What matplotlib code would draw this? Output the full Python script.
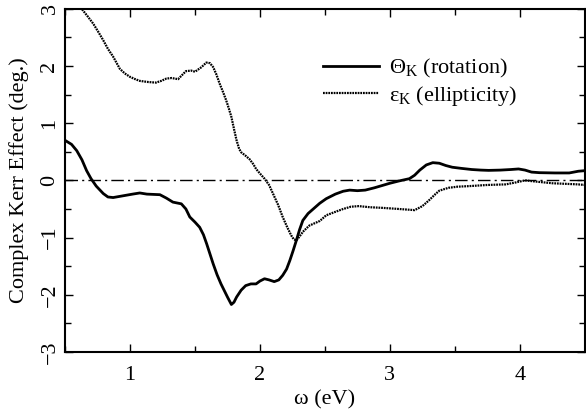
import numpy as np
import matplotlib
matplotlib.use('Agg')
import matplotlib.pyplot as plt
from matplotlib.ticker import MultipleLocator

# Kerr rotation (solid)
theta_x = [0.50, 0.55, 0.59, 0.63, 0.666, 0.70, 0.74, 0.794, 0.83, 0.87, 0.92, 0.97,
           1.02, 1.075, 1.13, 1.18, 1.23, 1.28, 1.33, 1.395, 1.43, 1.46, 1.50, 1.536,
           1.565, 1.59, 1.64, 1.67, 1.70, 1.75, 1.78, 1.80, 1.82, 1.855, 1.89, 1.93,
           1.97, 2.00, 2.035, 2.07, 2.11, 2.145, 2.175, 2.205, 2.23, 2.255, 2.28, 2.305,
           2.33, 2.37, 2.41, 2.46, 2.51, 2.58, 2.64, 2.69, 2.75, 2.81, 2.88, 2.94,
           3.00, 3.07, 3.11, 3.15, 3.19, 3.23, 3.28, 3.33, 3.38, 3.43, 3.48, 3.55, 3.63,
           3.70, 3.76, 3.85, 3.93, 3.99, 4.04, 4.09, 4.15, 4.27, 4.38, 4.45, 4.50]
theta_y = [0.70, 0.63, 0.52, 0.36, 0.17, 0.03, -0.10, -0.23, -0.29, -0.30, -0.28, -0.26,
           -0.24, -0.22, -0.24, -0.245, -0.25, -0.31, -0.38, -0.41, -0.50, -0.64, -0.73, -0.82,
           -0.95, -1.11, -1.46, -1.65, -1.81, -2.04, -2.17, -2.13, -2.04, -1.92, -1.84, -1.81,
           -1.81, -1.76, -1.72, -1.74, -1.77, -1.74, -1.66, -1.55, -1.40, -1.23, -1.05, -0.86,
           -0.70, -0.58, -0.50, -0.40, -0.32, -0.24, -0.19, -0.17, -0.18, -0.17, -0.13, -0.09,
           -0.05, -0.01, 0.01, 0.03, 0.09, 0.18, 0.27, 0.31, 0.30, 0.26, 0.23, 0.21, 0.19,
           0.18, 0.175, 0.18, 0.19, 0.20, 0.18, 0.145, 0.135, 0.13, 0.13, 0.16, 0.17]

# Kerr ellipticity (dotted)
eps_x = [0.50, 0.55, 0.628, 0.67, 0.717, 0.755, 0.794, 0.83, 0.871, 0.90, 0.922, 0.96,
         1.0, 1.04, 1.075, 1.14, 1.2, 1.24, 1.28, 1.32, 1.37, 1.40, 1.43, 1.47,
         1.50, 1.55, 1.587, 1.615, 1.64, 1.665, 1.69, 1.715, 1.74, 1.76, 1.78, 1.80,
         1.82, 1.84, 1.856, 1.89, 1.92, 1.95, 1.97, 2.00, 2.035, 2.07, 2.10, 2.14,
         2.175, 2.21, 2.24, 2.26, 2.28, 2.305, 2.33, 2.38, 2.46, 2.51, 2.58, 2.64,
         2.70, 2.76, 2.85, 2.94, 3.07, 3.19, 3.25, 3.30, 3.35, 3.38, 3.45, 3.52,
         3.61, 3.75, 3.89, 3.96, 4.04, 4.12, 4.25, 4.35, 4.45, 4.50]
eps_y = [3.35, 3.22, 3.0, 2.88, 2.74, 2.60, 2.45, 2.30, 2.16, 2.04, 1.95, 1.87,
         1.81, 1.77, 1.74, 1.72, 1.71, 1.74, 1.78, 1.79, 1.77, 1.84, 1.91, 1.92,
         1.90, 1.98, 2.06, 2.05, 1.98, 1.85, 1.69, 1.55, 1.40, 1.26, 1.11, 0.90,
         0.70, 0.55, 0.49, 0.43, 0.37, 0.28, 0.20, 0.12, 0.03, -0.08, -0.23, -0.43,
         -0.64, -0.82, -0.96, -1.03, -1.05, -0.98, -0.90, -0.79, -0.71, -0.61, -0.55, -0.50,
         -0.46, -0.45, -0.47, -0.48, -0.50, -0.52, -0.45, -0.35, -0.24, -0.18, -0.13, -0.11,
         -0.10, -0.08, -0.07, -0.04, 0.0, -0.02, -0.05, -0.06, -0.07, -0.08]

plt.rcParams['font.family'] = ['Liberation Serif', 'DejaVu Serif']
plt.rcParams['mathtext.fontset'] = 'custom'
plt.rcParams['mathtext.rm'] = 'Liberation Serif'
plt.rcParams['font.size'] = 16

fig = plt.figure(figsize=(5.86, 4.2), dpi=100)
ax = fig.add_axes([0.111, 0.162, 0.887, 0.817])

ax.axhline(0, color='black', lw=1.0, linestyle=(0, (9, 3, 1.5, 3)))
ax.plot(theta_x, theta_y, color='black', lw=2.0, solid_joinstyle='round',
        label='Θ$_{\\rm K}$ (rotation)')
ax.plot(eps_x, eps_y, color='black', lw=1.6, linestyle=(0, (0.8, 0.4)),
        label='ε$_{\\rm K}$ (ellipticity)')

ax.set_xlim(0.5, 4.5)
ax.set_ylim(-3, 3)
ax.xaxis.set_major_locator(MultipleLocator(1))
ax.xaxis.set_minor_locator(MultipleLocator(0.5))
ax.yaxis.set_major_locator(MultipleLocator(1))
ax.yaxis.set_minor_locator(MultipleLocator(0.5))
ax.tick_params(which='both', direction='in', top=True, right=True, width=1.0)
ax.tick_params(which='major', length=6)
ax.tick_params(which='minor', length=4)
ax.tick_params(axis='y', labelrotation=90, pad=4)
ax.tick_params(axis='x', pad=10)
for lab in ax.get_yticklabels():
    lab.set_verticalalignment('center')
for sp in ax.spines.values():
    sp.set_linewidth(1.5)

ax.set_xlabel('ω (eV)', labelpad=4)
ax.set_ylabel('Complex Kerr Effect (deg.)', labelpad=8)

ax.legend(loc='upper left', bbox_to_anchor=(0.48, 0.885), frameon=False,
          handlelength=2.5, handletextpad=0.45, labelspacing=0.15, borderaxespad=0)

fig.savefig('out.png', dpi=100)
